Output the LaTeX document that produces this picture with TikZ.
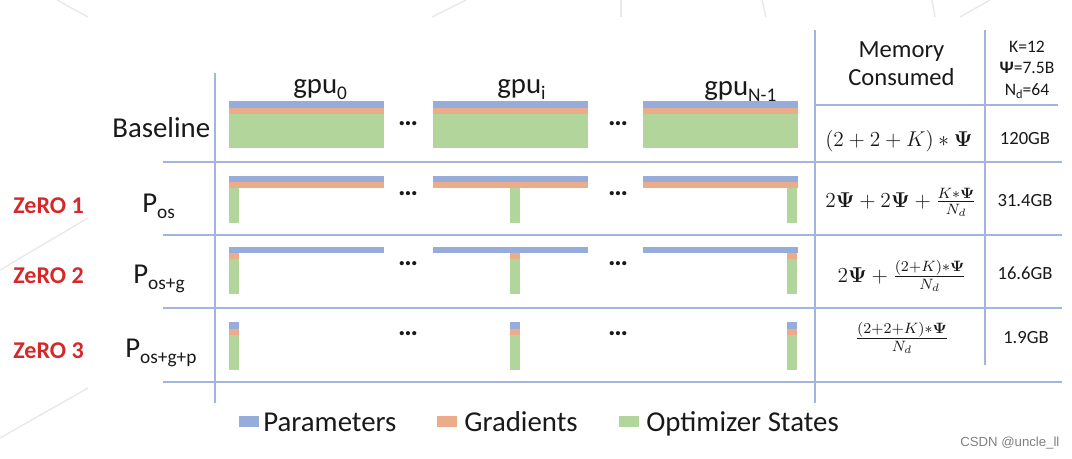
\RequirePackage{fix-cm}
\documentclass[tikz,border=0pt]{standalone}
\usepackage{amsmath}
\usepackage[no-math]{fontspec}
\setmainfont{Carlito}
\newfontfamily\wmfont{Liberation Sans}
\usetikzlibrary{positioning}

\definecolor{gridblue}{RGB}{163,181,222}
\definecolor{parblue}{RGB}{150,172,218}
\definecolor{gradorange}{RGB}{236,172,138}
\definecolor{optgreen}{RGB}{178,213,156}
\definecolor{zerored}{RGB}{214,40,40}

\newcommand{\lowidx}[1]{\raisebox{-3.5pt}{\fontsize{11}{11}\selectfont #1}}
\newcommand{\smallidx}[1]{\raisebox{-2pt}{\fontsize{7}{7}\selectfont #1}}

\tikzset{
  gridline/.style={draw=gridblue, line width=0.6pt},
  bgline/.style={draw=black!9, line width=0.8pt},
  lbl/.style={anchor=base west, inner sep=0pt, text=black!90, font=\fontsize{16.4}{18}\selectfont},
  zero/.style={anchor=base west, inner sep=0pt, text=zerored, font=\fontsize{13.7}{16}\selectfont\bfseries},
  dots/.style={anchor=base, inner sep=0pt, text=black!90, font=\fontsize{16}{18}\selectfont\bfseries},
  formula/.style={anchor=base, inner sep=0pt, text=black!90, font=\fontsize{12.2}{14}\selectfont},
  gb/.style={anchor=base, inner sep=0pt, text=black!90, font=\fontsize{10.6}{12}\selectfont},
  swatch/.style={inner sep=0pt, minimum width=0.4cm, minimum height=0.22cm}
}

\begin{document}
\begin{tikzpicture}[x=0.02cm, y=-0.02cm]
\useasboundingbox (0,0) rectangle (1072,458);

% faint slide background
\draw[bgline] (57,0) -- (88,17);
\draw[bgline] (432,17) -- (466,0);
\draw[bgline] (621,0) -- (621,17);
\draw[bgline] (762,0) -- (766,17);
\draw[bgline] (932,0) -- (935,17);
\draw[bgline] (960,17) -- (990,0);
\draw[bgline] (0,270) -- (88,218);
\draw[bgline] (0,438) -- (88,388);

% table lines
\draw[gridline] (215,73) -- (215,403);
\draw[gridline] (815,30) -- (815,403);
\draw[gridline] (985,30) -- (985,365);
\draw[gridline] (815,105) -- (1058,105);
\foreach \y in {162,235,308,382}
  \draw[gridline] (163,\y) -- (1062,\y);

% column heads
\node[lbl] (gpu0) at (293,93) {gpu\lowidx{0}};
\node[lbl] (gpui) at (497,93) {gpu\lowidx{i}};
\node[lbl] (gpun) at (704,95) {gpu\lowidx{N-1}};

% row heads
\node[lbl] (base) at (112,137) {Baseline};
\node[lbl] (pos) at (142,212) {P\lowidx{os}};
\node[lbl] (posg) at (133,283) {P\lowidx{os+g}};
\node[lbl] (posgp) at (125,357) {P\lowidx{os+g+p}};
\node[zero] (zero1) at (13,213) {ZeRO 1};
\node[zero] (zero2) at (13,283) {ZeRO 2};
\node[zero] (zero3) at (13,358) {ZeRO 3};

% memory bars
\foreach \c/\n in {229/229,433/510,643/787}{
  % baseline
  \fill[parblue] (\c,101) rectangle +(155,6.5);
  \fill[gradorange] (\c,107.5) rectangle +(155,6.5);
  \fill[optgreen] (\c,114) rectangle +(155,34);
  % P_os
  \fill[parblue] (\c,175.5) rectangle +(155,6);
  \fill[gradorange] (\c,181.5) rectangle +(155,6.5);
  \fill[optgreen] (\n,188) rectangle +(10,35);
  % P_os+g
  \fill[parblue] (\c,246.5) rectangle +(155,6);
  \fill[gradorange] (\n,252.5) rectangle +(10,6.5);
  \fill[optgreen] (\n,259) rectangle +(10,35);
  % P_os+g+p
  \fill[parblue] (\n,322) rectangle +(10,6.5);
  \fill[gradorange] (\n,328.5) rectangle +(10,6.5);
  \fill[optgreen] (\n,335) rectangle +(10,35);
}

% dots between gpus
\foreach \x in {408,618}
  \foreach \y in {125,195,265,335}
    \node[dots] (dot-\x-\y) at (\x,\y) {…};

% memory column
\node[align=center, inner sep=0pt, text=black!90, font=\fontsize{14}{16}\selectfont] (mem) at (901.5,64) {Memory\\Consumed};
\node[align=center, inner sep=0pt, text=black!90, font=\fontsize{10}{12.2}\selectfont] (params) at (1027,70)
  {K=12\\{\bfseries Ψ}=7.5B\\N\smallidx{d}=64};

\node[formula] (f1) at (899,146) {$(2+2+K)*\boldsymbol{\Psi}$};
\node[formula] (f2) at (901,207) {$2\boldsymbol{\Psi}+2\boldsymbol{\Psi}+\frac{K*\boldsymbol{\Psi}}{N_d}$};
\node[formula] (f3) at (902,282) {$2\boldsymbol{\Psi}+\frac{(2+K)*\boldsymbol{\Psi}}{N_d}$};
\node[formula] (f4) at (902,344) {$\frac{(2+2+K)*\boldsymbol{\Psi}}{N_d}$};

\node[gb] (m1) at (1025,144) {120GB};
\node[gb] (m2) at (1025,206) {31.4GB};
\node[gb] (m3) at (1025,279) {16.6GB};
\node[gb] (m4) at (1026,343) {1.9GB};

% legend
\node[swatch, fill=parblue] (swpar) at (249,421.5) {};
\node[lbl] (legpar) at (263,431) {Parameters};
\node[swatch, fill=gradorange] (swgrad) at (447,421.5) {};
\node[lbl] (leggrad) at (464,431) {Gradients};
\node[swatch, fill=optgreen] (swopt) at (628.5,421.5) {};
\node[lbl] (legopt) at (646,431) {Optimizer States};

\node[anchor=base west, inner sep=0pt, text=black!50, font=\wmfont\fontsize{7.5}{9}\selectfont] (mark) at (960,446) {CSDN @uncle\_ll};
\end{tikzpicture}
\end{document}
